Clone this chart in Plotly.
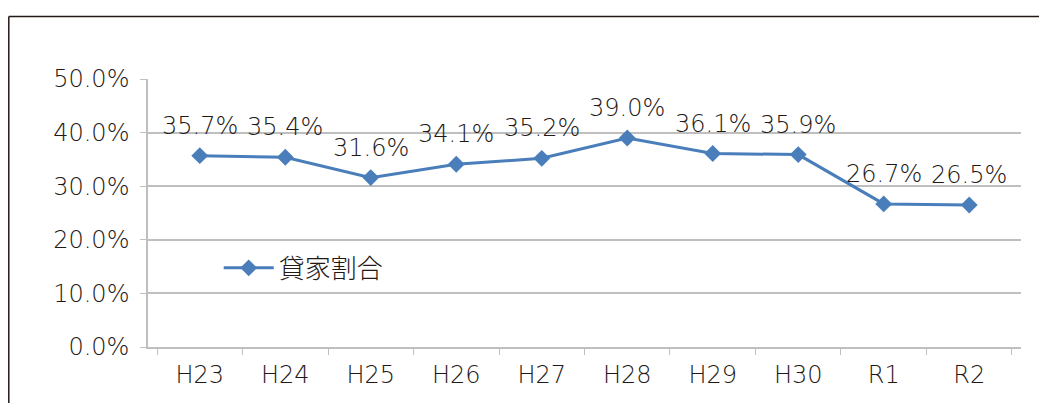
import plotly.graph_objects as go

categories = ["H23", "H24", "H25", "H26", "H27", "H28", "H29", "H30", "R1", "R2"]
values = [35.7, 35.4, 31.6, 34.1, 35.2, 39.0, 36.1, 35.9, 26.7, 26.5]
series_name = "貸家割合"
y_ticks = [0, 10, 20, 30, 40, 50]
y_tick_labels = ["0.0%", "10.0%", "20.0%", "30.0%", "40.0%", "50.0%"]

FONT = "DejaVu Sans"
CJK = "Noto Sans CJK JP"
TXT = "#231815"
LINE = "#4A7EBB"
GRID = "#BFBFBF"
FS = 24

fig = go.Figure()
fig.add_trace(go.Scatter(
    x=categories, y=values, name=series_name, mode="lines+markers",
    line=dict(color=LINE, width=3),
    marker=dict(symbol="diamond", size=13, color=LINE),
))
for c, v in zip(categories, values):
    fig.add_annotation(x=c, y=v, text=f"{v:.1f}%", showarrow=False,
                       yshift=30, font=dict(family=FONT, size=FS, color=TXT, weight=300))

# outer frame: top and left edges only (right/bottom are cropped in the reference)
fx0 = -139.2 / 873
fy1 = (339.3 - 9) / 268.6 + 1 / 268.6
fig.add_shape(type="line", xref="paper", yref="paper", x0=fx0, x1=1.2, y0=fy1, y1=fy1,
              line=dict(color="#231815", width=1.5))
fig.add_shape(type="line", xref="paper", yref="paper", x0=fx0, x1=fx0, y0=-0.3, y1=fy1,
              line=dict(color="#231815", width=1.5))

fig.update_layout(
    width=1039, height=395,
    margin=dict(l=140, r=26, t=71, b=56),
    paper_bgcolor="white", plot_bgcolor="white",
    font=dict(family=FONT, size=FS, color=TXT, weight=300),
    showlegend=True,
    legend=dict(x=0.081, y=0.295, xanchor="left", yanchor="middle",
                bgcolor="rgba(0,0,0,0)", font=dict(family=CJK, size=26, color=TXT, weight=300),
                itemwidth=50),
    xaxis=dict(type="category", tickson="boundaries", ticks="outside", ticklen=6,
               tickcolor=GRID, showline=True, linecolor=GRID, linewidth=1.5,
               showgrid=False, tickfont=dict(family=FONT, size=FS, color=TXT, weight=300),
               ticklabelstandoff=5),
    yaxis=dict(range=[0, 50], tickvals=y_ticks, ticktext=y_tick_labels,
               ticks="outside", ticklen=6, tickcolor=GRID, showline=True,
               linecolor=GRID, linewidth=1.5, gridcolor=GRID, gridwidth=1.5,
               zeroline=False, tickfont=dict(family=FONT, size=FS, color=TXT, weight=300),
               ticklabelstandoff=6),
)
fig.write_html("out.html")
